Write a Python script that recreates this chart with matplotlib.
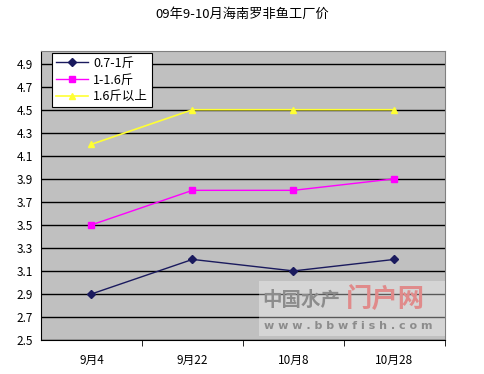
import matplotlib.pyplot as plt
from matplotlib.patches import Rectangle

plt.rcParams['font.family'] = ['Noto Sans CJK SC', 'DejaVu Sans']

dates = ["9月4", "9月22", "10月8", "10月28"]
small = [2.9, 3.2, 3.1, 3.2]
medium = [3.5, 3.8, 3.8, 3.9]
large = [4.2, 4.5, 4.5, 4.5]
yticks = [2.5, 2.7, 2.9, 3.1, 3.3, 3.5, 3.7, 3.9, 4.1, 4.3, 4.5, 4.7, 4.9]


def main():
    fig = plt.figure(figsize=(4.84, 3.74), dpi=100)
    ax = fig.add_axes([0.0847, 0.0909, 0.8347, 0.7727])
    ax.set_facecolor("#c0c0c0")
    x = range(len(dates))

    ax.plot(x, small, color="#1a1a5e", marker="D", markersize=4, lw=1, label="0.7-1斤")
    ax.plot(x, medium, color="#ff00ff", marker="s", markersize=4.5, lw=1, label="1-1.6斤")
    ax.plot(x, large, color="#ffff33", marker="^", markersize=5, lw=1.2, label="1.6斤以上")

    ax.set_xlim(-0.5, 3.5)
    ax.set_ylim(2.5, 5.01)
    ax.set_yticks(yticks)
    ax.set_yticklabels([f"{v:.1f}" for v in yticks], fontsize=8.5)
    ax.yaxis.grid(True, color="black", lw=1)
    ax.set_axisbelow(True)
    ax.tick_params(axis="y", length=0, pad=6)

    ax.set_xticks(list(x))
    ax.set_xticklabels(dates, fontsize=8.5)
    ax.set_xticks([0.5, 1.5, 2.5, 3.5], minor=True)
    ax.tick_params(axis="x", which="major", length=0, pad=10)
    ax.tick_params(axis="x", which="minor", length=4, direction="out", color="black")

    for side in ["top", "right"]:
        ax.spines[side].set_color("#808080")
    ax.spines["left"].set_color("black")
    ax.spines["bottom"].set_color("black")

    # watermark
    ax.add_patch(Rectangle((0.54, 0.015), 0.46, 0.19, transform=ax.transAxes,
                           facecolor="white", alpha=0.35, edgecolor="none", zorder=5))
    ax.text(0.548, 0.135, "中国水产", transform=ax.transAxes, fontsize=14,
            color="#8c8c8c", va="center", zorder=6, weight="bold")
    ax.text(0.755, 0.14, "门户网", transform=ax.transAxes, fontsize=19,
            color="#e08a8a", va="center", zorder=6, weight="bold")
    ax.text(0.552, 0.05, "w w w . b b w f i s h . c o m", transform=ax.transAxes, fontsize=8,
            color="#8c8c8c", va="center", zorder=6, family="DejaVu Sans", weight="bold")

    leg = ax.legend(loc="upper left", bbox_to_anchor=(0.027, 0.993), borderaxespad=0,
                    fontsize=9, frameon=True, fancybox=False, edgecolor="black",
                    framealpha=1, borderpad=0.3, labelspacing=0.3, handlelength=2.6,
                    handletextpad=0.4)
    leg.get_frame().set_linewidth(0.8)

    fig.text(0.5, 0.962, "09年9-10月海南罗非鱼工厂价", ha="center", va="center", fontsize=9.5)

    fig.savefig("out.png", dpi=100)


if __name__ == "__main__":
    main()
